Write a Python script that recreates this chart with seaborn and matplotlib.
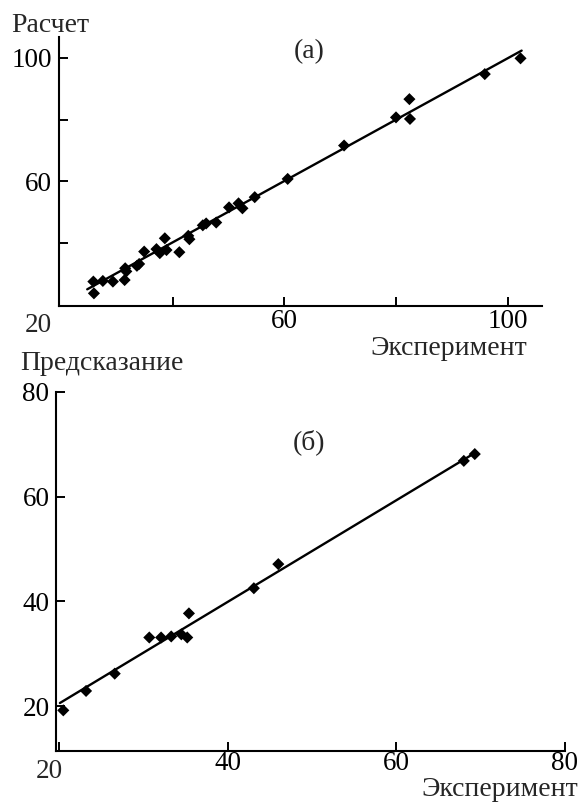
import matplotlib
matplotlib.use("Agg")
import matplotlib.pyplot as plt
import seaborn as sns

# ---- data: panel (а) ----
exp_a = [25.8, 25.9, 27.5, 29.3, 31.4, 31.5, 31.7, 33.6, 34.0, 34.9, 37.1, 37.7,
         38.6, 38.9, 41.2, 42.8, 43.0, 45.4, 46.0, 47.8, 50.1, 51.8, 52.5, 54.7,
         60.6, 70.7, 80.0, 82.4, 82.5, 95.9, 102.3]
calc_a = [27.6, 23.8, 27.8, 27.6, 28.1, 31.9, 30.9, 32.7, 33.3, 37.3, 38.1, 36.8,
          41.6, 37.8, 37.1, 42.4, 41.3, 45.8, 46.4, 46.7, 51.6, 52.9, 51.3, 54.9,
          60.8, 71.6, 80.7, 86.6, 80.2, 94.7, 99.8]
fit_a_x = [24.7, 102.5]
fit_a_y = [25.1, 102.3]

# ---- data: panel (б) ----
exp_b = [20.5, 23.2, 26.6, 30.7, 32.1, 33.3, 34.5, 35.2, 35.4, 43.1, 46.0, 68.0, 69.3]
pred_b = [19.2, 22.9, 26.2, 33.1, 33.1, 33.3, 33.7, 33.1, 37.7, 42.5, 47.1, 66.8, 68.1]
fit_b_x = [20.1, 69.5]
fit_b_y = [20.6, 68.5]

xticks_a = [40, 60, 80, 100]
xticklabels_a = ["", "60", "", "100"]
yticks_a = [40, 60, 80, 100]
yticklabels_a = ["", "60", "", "100"]
xticks_b = [20, 40, 60, 80]
xticklabels_b = ["", "40", "60", "80"]
yticks_b = [20, 40, 60, 80]
yticklabels_b = ["20", "40", "60", "80"]

sns.set_style("ticks")
plt.rcParams["font.family"] = ["Liberation Serif", "DejaVu Serif"]

W, H = 580, 809
fig = plt.figure(figsize=(W / 100, H / 100), dpi=100)

def fx(px):
    return px / W

def fy(py):
    return 1 - py / H

FS = 19.5
LFS = 20

def style(ax):
    for s in ["top", "right"]:
        ax.spines[s].set_visible(False)
    for s in ["left", "bottom"]:
        ax.spines[s].set_color("black")
        ax.spines[s].set_linewidth(1.5)
    ax.tick_params(direction="in", length=6.5, width=1.4, color="black",
                   labelsize=FS, labelcolor="black")

# panel (а)
ax1 = fig.add_axes([fx(59.3), fy(305.7), fx(542.3 - 59.3), (305.7 - 37.3) / H])
sns.scatterplot(x=exp_a, y=calc_a, marker="D", s=38, color="black",
                edgecolor="none", linewidth=0, ax=ax1, zorder=3)
sns.lineplot(x=fit_a_x, y=fit_a_y, color="black", linewidth=1.7, ax=ax1)
ax1.set_xlim(19.7, 106.2)
ax1.set_ylim(19.8, 106.6)
ax1.set_xticks(xticks_a)
ax1.set_xticklabels(xticklabels_a)
ax1.set_yticks(yticks_a)
ax1.set_yticklabels(yticklabels_a)
style(ax1)
ax1.tick_params(axis="x", pad=2.5)
ax1.tick_params(axis="y", pad=5.5)

# panel (б)
ax2 = fig.add_axes([fx(55.7), fy(750.7), fx(565 - 55.7), (750.7 - 391.7) / H])
sns.scatterplot(x=exp_b, y=pred_b, marker="D", s=38, color="black",
                edgecolor="none", linewidth=0, ax=ax2, zorder=3)
sns.lineplot(x=fit_b_x, y=fit_b_y, color="black", linewidth=1.7, ax=ax2)
ax2.set_xlim(19.6, 80)
ax2.set_ylim(11.5, 80)
ax2.set_xticks(xticks_b)
ax2.set_xticklabels(xticklabels_b)
ax2.set_yticks(yticks_b)
ax2.set_yticklabels(yticklabels_b)
style(ax2)
ax2.tick_params(axis="x", pad=0.5)
ax2.tick_params(axis="y", pad=4.5)

# texts
fig.text(fx(11), fy(25), "Расчет", fontsize=LFS, ha="left", va="center")
fig.text(fx(309), fy(52), "(а)", fontsize=LFS, ha="center", va="center")
fig.text(fx(38.5), fy(326), "20", fontsize=FS, ha="center", va="center")
fig.text(fx(527), fy(348), "Эксперимент", fontsize=LFS, ha="right", va="center")
fig.text(fx(20), fy(363), "Предсказание", fontsize=LFS, ha="left", va="center")
fig.text(fx(309), fy(442), "(б)", fontsize=LFS, ha="center", va="center")
fig.text(fx(49), fy(772), "20", fontsize=FS, ha="center", va="center")
fig.text(fx(578), fy(790), "Эксперимент", fontsize=LFS, ha="right", va="center")

fig.savefig("out.png", dpi=100, facecolor="white")
